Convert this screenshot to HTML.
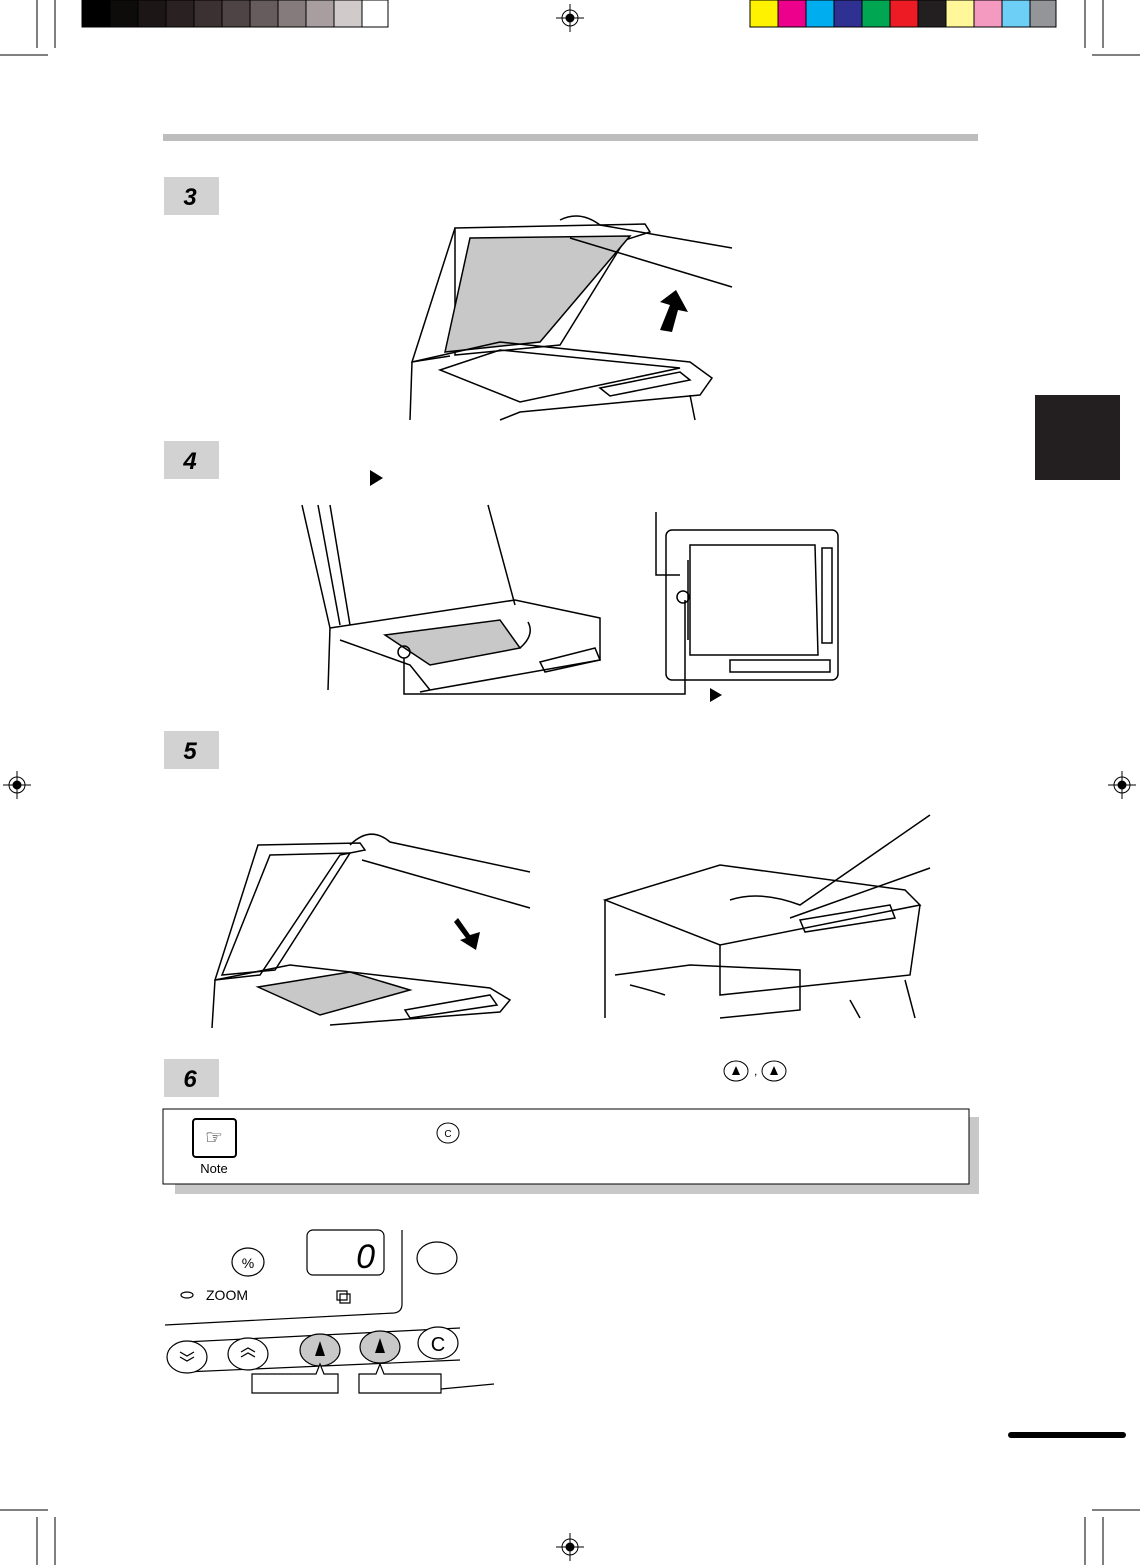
<!DOCTYPE html>
<html><head><meta charset="utf-8"><style>
html,body{margin:0;padding:0;background:#fff}
svg{display:block}
text{font-family:"Liberation Sans",sans-serif}
</style></head><body>
<svg width="1140" height="1565" viewBox="0 0 1140 1565" xmlns="http://www.w3.org/2000/svg">
<!-- grayscale bar -->
<g stroke="#000" stroke-width="1">
<rect x="82" y="0" width="28" height="27" fill="#000"/>
<rect x="110" y="0" width="28" height="27" fill="#0e0b0b"/>
<rect x="138" y="0" width="28" height="27" fill="#1d1617"/>
<rect x="166" y="0" width="28" height="27" fill="#2a2222"/>
<rect x="194" y="0" width="28" height="27" fill="#3b3132"/>
<rect x="222" y="0" width="28" height="27" fill="#4e4445"/>
<rect x="250" y="0" width="28" height="27" fill="#665c5d"/>
<rect x="278" y="0" width="28" height="27" fill="#867b7c"/>
<rect x="306" y="0" width="28" height="27" fill="#a89e9f"/>
<rect x="334" y="0" width="28" height="27" fill="#d1cacb"/>
<rect x="362" y="0" width="26" height="27" fill="#fff"/>
</g>
<g stroke="#000" stroke-width="1">
<rect x="750" y="0" width="28" height="27" fill="#fff200"/>
<rect x="778" y="0" width="28" height="27" fill="#ec008c"/>
<rect x="806" y="0" width="28" height="27" fill="#00aeef"/>
<rect x="834" y="0" width="28" height="27" fill="#2e3192"/>
<rect x="862" y="0" width="28" height="27" fill="#00a651"/>
<rect x="890" y="0" width="28" height="27" fill="#ed1c24"/>
<rect x="918" y="0" width="28" height="27" fill="#231f20"/>
<rect x="946" y="0" width="28" height="27" fill="#fff799"/>
<rect x="974" y="0" width="28" height="27" fill="#f49ac1"/>
<rect x="1002" y="0" width="28" height="27" fill="#6dcff6"/>
<rect x="1030" y="0" width="26" height="27" fill="#939598"/>
</g>
<!-- crop marks -->
<g stroke="#000" stroke-width="1" fill="none">
<path d="M37 0V48M55 0V48M0 55H48"/>
<path d="M1103 0V48M1085 0V48M1092 55H1140"/>
<path d="M37 1565V1517M55 1565V1517M0 1510H48"/>
<path d="M1103 1565V1517M1085 1565V1517M1092 1510H1140"/>
</g>
<!-- registration targets -->
<g stroke="#000" stroke-width="1" fill="none">
<g transform="translate(570,18)"><circle r="8"/><circle r="4" fill="#000"/><path d="M-14 0H14M0 -14V14"/></g>
<g transform="translate(17,785)"><circle r="8"/><circle r="4" fill="#000"/><path d="M-14 0H14M0 -14V14"/></g>
<g transform="translate(1122,785)"><circle r="8"/><circle r="4" fill="#000"/><path d="M-14 0H14M0 -14V14"/></g>
<g transform="translate(570,1547)"><circle r="8"/><circle r="4" fill="#000"/><path d="M-14 0H14M0 -14V14"/></g>
</g>
<!-- header rule -->
<rect x="163" y="134" width="815" height="7" fill="#bdbdbd"/>
<!-- tab -->
<rect x="1035" y="395" width="85" height="85" fill="#231f20"/>
<rect x="1008" y="1432" width="118" height="6" rx="3" fill="#000"/>
<!-- step boxes -->
<g fill="#d2d2d2">
<rect x="164" y="177" width="55" height="38"/><rect x="164" y="441" width="55" height="38"/>
<rect x="164" y="731" width="55" height="38"/><rect x="164" y="1059" width="55" height="38"/>
</g>
<g font-size="24" font-weight="bold" font-style="italic" fill="#000" text-anchor="middle">
<text x="190" y="205">3</text><text x="190" y="469">4</text><text x="190" y="759">5</text><text x="190" y="1087">6</text>
</g>
<!-- step 3 illustration -->
<g stroke="#000" stroke-width="1.5" fill="none">
<path d="M455 228L645 224L650 232L625 240L560 345L455 355Z" fill="#fff"/>
<path d="M470 238L630 236L540 342L445 352Z" fill="#c8c8c8"/>
<path d="M455 228L412 362L450 356"/>
<path d="M412 362L410 420M412 362L500 342L690 362L712 378L700 395L520 412L500 420"/>
<path d="M440 370L500 350L680 368L520 402Z"/>
<path d="M600 388L680 372L690 380L610 396Z"/>
<path d="M690 395L695 420"/>
<path d="M560 220Q580 210 600 225L732 248M570 238L732 287"/>
</g>
<path d="M660 330L670 305L660 302L676 290L688 312L678 310L672 332Z" fill="#000"/>
<polygon points="370,470 383,478 370,486" fill="#000"/>
<!-- step 4 left -->
<g stroke="#000" stroke-width="1.5" fill="none">
<path d="M302 505L330 628M318 505L340 625M330 505L350 625M488 505L515 605"/>
<path d="M330 628L515 600L600 618L600 660L430 690L420 692"/>
<path d="M330 628L328 690M340 640L410 665L430 690"/>
<path d="M385 635L500 620L520 648L430 665Z" fill="#c8c8c8"/>
<path d="M520 648Q535 635 528 622"/>
<path d="M540 662L595 648L600 660L545 672Z"/>
<circle cx="404" cy="652" r="6"/>
<path d="M404 658V694H685V600"/>
</g>
<polygon points="710,688 722,695 710,702" fill="#000"/>
<!-- step 4 right -->
<g stroke="#000" stroke-width="1.5" fill="none">
<rect x="666" y="530" width="172" height="150" rx="6"/>
<path d="M690 545H815L818 655H690Z"/>
<rect x="822" y="548" width="10" height="95"/>
<path d="M730 660H830V672H730Z"/>
<path d="M656 512V575H680"/>
<circle cx="683" cy="597" r="6"/>
<path d="M688 560V640"/>
</g>
<!-- step 5 left -->
<g stroke="#000" stroke-width="1.5" fill="none">
<path d="M258 845L360 843L365 850L340 855L260 975L215 980Z" fill="#fff"/>
<path d="M270 855L350 853L275 970L222 975Z"/>
<path d="M215 980L212 1028M215 980L290 965L490 988L510 1000L500 1012L330 1025"/>
<path d="M258 987L350 972L410 990L320 1015Z" fill="#c8c8c8"/>
<path d="M405 1010L490 995L497 1005L410 1018Z"/>
<path d="M350 845Q370 825 390 842L530 872M362 860L530 908"/>
</g>
<path d="M458 918L470 935L480 932L476 950L460 940L466 938L454 922Z" fill="#000"/>
<!-- step 5 right -->
<g stroke="#000" stroke-width="1.5" fill="none">
<path d="M605 900L720 865L905 890L920 905L720 945Z"/>
<path d="M605 900L605 1018M720 945L720 995L910 975L920 905"/>
<path d="M615 975L690 965L800 970L800 1010L720 1018"/>
<path d="M630 985Q650 990 665 995"/>
<path d="M800 920L890 905L895 918L805 932Z"/>
<path d="M905 980L915 1018M850 1000L860 1018"/>
<path d="M730 900Q760 890 800 905L930 815M790 918L930 868"/>
</g>
<!-- step 6 keys inline -->
<g stroke="#000" stroke-width="1" fill="#fff">
<ellipse cx="736" cy="1071" rx="12" ry="10"/><ellipse cx="774" cy="1071" rx="12" ry="10"/>
</g>
<polygon points="736,1066 732,1075 740,1075" fill="#000"/>
<polygon points="774,1066 770,1075 778,1075" fill="#000"/>
<text x="754" y="1075" font-size="12">,</text>
<!-- note -->
<rect x="175" y="1117" width="804" height="77" fill="#c8c8c8"/>
<rect x="163" y="1109" width="806" height="75" fill="#fff" stroke="#000" stroke-width="1"/>
<rect x="193" y="1119" width="43" height="38" rx="3" fill="#fff" stroke="#000" stroke-width="2"/>
<text x="214" y="1144" font-size="20" text-anchor="middle">☞</text>
<text x="214" y="1173" font-size="13" text-anchor="middle">Note</text>
<ellipse cx="448" cy="1133" rx="11" ry="10" fill="#fff" stroke="#000"/>
<text x="448" y="1137" font-size="10" text-anchor="middle">C</text>
<!-- control panel -->
<g stroke="#000" stroke-width="1.2" fill="none">
<path d="M402 1230V1304Q402 1312 394 1313L165 1325"/>
<rect x="307" y="1230" width="77" height="45" rx="6"/>
<ellipse cx="437" cy="1258" rx="20" ry="16"/>
<ellipse cx="248" cy="1262" rx="16" ry="14"/>
<ellipse cx="187" cy="1295" rx="6" ry="3"/>
<path d="M185 1342L460 1328M185 1372L460 1360"/>
<ellipse cx="187" cy="1357" rx="20" ry="16" fill="#fff"/>
<ellipse cx="248" cy="1354" rx="20" ry="16" fill="#fff"/>
<ellipse cx="320" cy="1350" rx="20" ry="16" fill="#c8c8c8"/>
<ellipse cx="380" cy="1347" rx="20" ry="16" fill="#c8c8c8"/>
<ellipse cx="438" cy="1343" rx="20" ry="16" fill="#fff"/>
<path d="M252 1374H316L320 1364L324 1374H338V1393H252Z" fill="#fff"/>
<path d="M359 1374H376L380 1364L384 1374H441V1393H359Z" fill="#fff"/>
<path d="M441 1389L494 1384"/>
<path d="M180 1352l7 4 7-4M180 1357l7 4 7-4M241 1352l7-4 7 4M241 1357l7-4 7 4"/>
<path d="M337 1291h10v9h-10zM340 1294h10v9h-10z" fill="#fff"/>
</g>
<polygon points="320,1341 315,1356 325,1356" fill="#000"/>
<polygon points="380,1338 375,1353 385,1353" fill="#000"/>
<text x="248" y="1268" font-size="14" text-anchor="middle">%</text>
<text x="206" y="1300" font-size="14">ZOOM</text>
<text x="438" y="1351" font-size="20" text-anchor="middle">C</text>
<text x="375" y="1268" font-size="34" font-style="italic" text-anchor="end">0</text>
</svg>
</body></html>
